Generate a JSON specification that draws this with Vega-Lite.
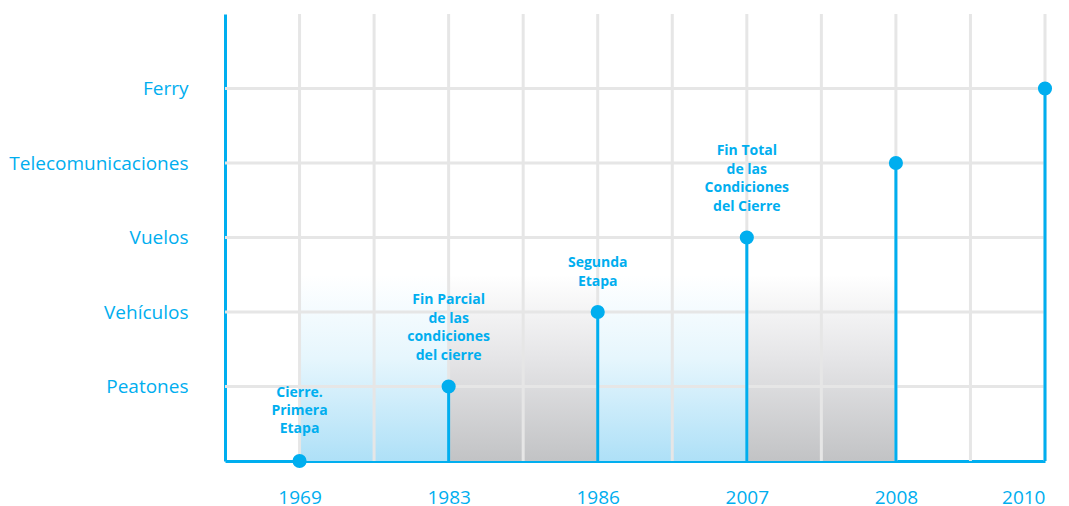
{
  "$schema": "https://vega.github.io/schema/vega-lite/v6.json",
  "width": 820,
  "height": 447,
  "autosize": {"type": "none"},
  "padding": {"left": 225, "top": 14, "right": 24, "bottom": 45},
  "background": "white",
  "config": {
    "view": {"stroke": null},
    "axis": {
      "domainColor": "#00aeef",
      "domainWidth": 3,
      "ticks": false,
      "grid": false,
      "labelColor": "#00aeef",
      "labelFont": "Open Sans",
      "labelFontSize": 19,
      "zindex": 1
    },
    "text": {
      "color": "#00aeef",
      "font": "Open Sans",
      "fontWeight": "bold",
      "fontSize": 14,
      "lineHeight": 18.7,
      "align": "center",
      "baseline": "bottom"
    }
  },
  "datasets": {
    "events": [
      {"idx": 0, "base": 0, "year": "1969", "level": 0, "label": ["Cierre.", "Primera", "Etapa"]},
      {"idx": 1, "base": 0, "year": "1983", "level": 1, "label": ["Fin Parcial", "de las", "condiciones", "del cierre"]},
      {"idx": 2, "base": 0, "year": "1986", "level": 2, "label": ["Segunda", "Etapa"]},
      {"idx": 3, "base": 0, "year": "2007", "level": 3, "label": ["Fin Total", "de las", "Condiciones", "del Cierre"]},
      {"idx": 4, "base": 0, "year": "2008", "level": 4, "label": []},
      {"idx": 5, "base": 0, "year": "2010", "level": 5, "label": []}
    ],
    "bands": [
      {"start": 0, "end": 1, "lo": 0, "hi": 2.5, "kind": "blue"},
      {"start": 1, "end": 2, "lo": 0, "hi": 2.5, "kind": "grey"},
      {"start": 2, "end": 3, "lo": 0, "hi": 2.5, "kind": "blue"},
      {"start": 3, "end": 4, "lo": 0, "hi": 2.5, "kind": "grey"}
    ],
    "gridx": [
      {"g": 0, "lo": 0, "hi": 6}, {"g": 0.5, "lo": 0, "hi": 6}, {"g": 1, "lo": 0, "hi": 6},
      {"g": 1.5, "lo": 0, "hi": 6}, {"g": 2, "lo": 0, "hi": 6}, {"g": 2.5, "lo": 0, "hi": 6},
      {"g": 3, "lo": 0, "hi": 6}, {"g": 3.5, "lo": 0, "hi": 6}, {"g": 4, "lo": 0, "hi": 6},
      {"g": 4.5, "lo": 0, "hi": 6}, {"g": 5, "lo": 0, "hi": 6}
    ],
    "gridy": [
      {"g": 1, "lo": -0.5, "hi": 5}, {"g": 2, "lo": -0.5, "hi": 5}, {"g": 3, "lo": -0.5, "hi": 5},
      {"g": 4, "lo": -0.5, "hi": 5}, {"g": 5, "lo": -0.5, "hi": 5}
    ]
  },
  "layer": [
    {
      "data": {"name": "bands"},
      "transform": [{"filter": "datum.kind === 'blue'"}],
      "mark": {
        "type": "rect",
        "fill": {
          "gradient": "linear",
          "x1": 0, "y1": 0, "x2": 0, "y2": 1,
          "stops": [
            {"offset": 0, "color": "#ffffff"},
            {"offset": 0.45, "color": "#e6f6fd"},
            {"offset": 1, "color": "#aee0f7"}
          ]
        }
      },
      "encoding": {
        "x": {
          "field": "start", "type": "quantitative", "title": null,
          "scale": {"domain": [-0.5, 5], "nice": false, "zero": false},
          "axis": {
            "values": [0, 1, 2, 3, 4, 5],
            "labelExpr": "['1969','1983','1986','2007','2008','2010'][datum.value]",
            "labelPadding": 27
          }
        },
        "x2": {"field": "end"},
        "y": {
          "field": "lo", "type": "quantitative", "title": null,
          "scale": {"domain": [0, 6], "nice": false},
          "axis": {
            "values": [1, 2, 3, 4, 5],
            "labelExpr": "['','Peatones','Vehículos','Vuelos','Telecomunicaciones','Ferry'][datum.value]",
            "labelPadding": 37
          }
        },
        "y2": {"field": "hi"}
      }
    },
    {
      "data": {"name": "bands"},
      "transform": [{"filter": "datum.kind === 'grey'"}],
      "mark": {
        "type": "rect",
        "fill": {
          "gradient": "linear",
          "x1": 0, "y1": 0, "x2": 0, "y2": 1,
          "stops": [
            {"offset": 0, "color": "#ffffff"},
            {"offset": 0.45, "color": "#e5e5e7"},
            {"offset": 1, "color": "#c2c3c5"}
          ]
        }
      },
      "encoding": {
        "x": {"field": "start", "type": "quantitative"},
        "x2": {"field": "end"},
        "y": {"field": "lo", "type": "quantitative"},
        "y2": {"field": "hi"}
      }
    },
    {
      "data": {"name": "gridx"},
      "mark": {"type": "rule", "color": "#e6e6e6", "strokeWidth": 3},
      "encoding": {
        "x": {"field": "g", "type": "quantitative"},
        "y": {"field": "lo", "type": "quantitative"},
        "y2": {"field": "hi"}
      }
    },
    {
      "data": {"name": "gridy"},
      "mark": {"type": "rule", "color": "#e6e6e6", "strokeWidth": 3},
      "encoding": {
        "y": {"field": "g", "type": "quantitative"},
        "x": {"field": "lo", "type": "quantitative"},
        "x2": {"field": "hi"}
      }
    },
    {
      "data": {"name": "events"},
      "mark": {"type": "rule", "color": "#00aeef", "strokeWidth": 3},
      "encoding": {
        "x": {"field": "idx", "type": "quantitative"},
        "y": {"field": "base", "type": "quantitative"},
        "y2": {"field": "level"}
      }
    },
    {
      "data": {"name": "events"},
      "mark": {"type": "point", "filled": true, "color": "#00aeef", "opacity": 1, "size": 200},
      "encoding": {
        "x": {"field": "idx", "type": "quantitative"},
        "y": {"field": "level", "type": "quantitative"}
      }
    },
    {
      "data": {"name": "events"},
      "transform": [{"filter": "length(datum.label) === 2"}],
      "mark": {"type": "text", "dy": -42},
      "encoding": {
        "x": {"field": "idx", "type": "quantitative"},
        "y": {"field": "level", "type": "quantitative"},
        "text": {"field": "label"}
      }
    },
    {
      "data": {"name": "events"},
      "transform": [{"filter": "length(datum.label) === 3"}],
      "mark": {"type": "text", "dy": -61, "lineHeight": 18.2},
      "encoding": {
        "x": {"field": "idx", "type": "quantitative"},
        "y": {"field": "level", "type": "quantitative"},
        "text": {"field": "label"}
      }
    },
    {
      "data": {"name": "events"},
      "transform": [{"filter": "length(datum.label) === 4"}],
      "mark": {"type": "text", "dy": -79.5},
      "encoding": {
        "x": {"field": "idx", "type": "quantitative"},
        "y": {"field": "level", "type": "quantitative"},
        "text": {"field": "label"}
      }
    }
  ]
}
